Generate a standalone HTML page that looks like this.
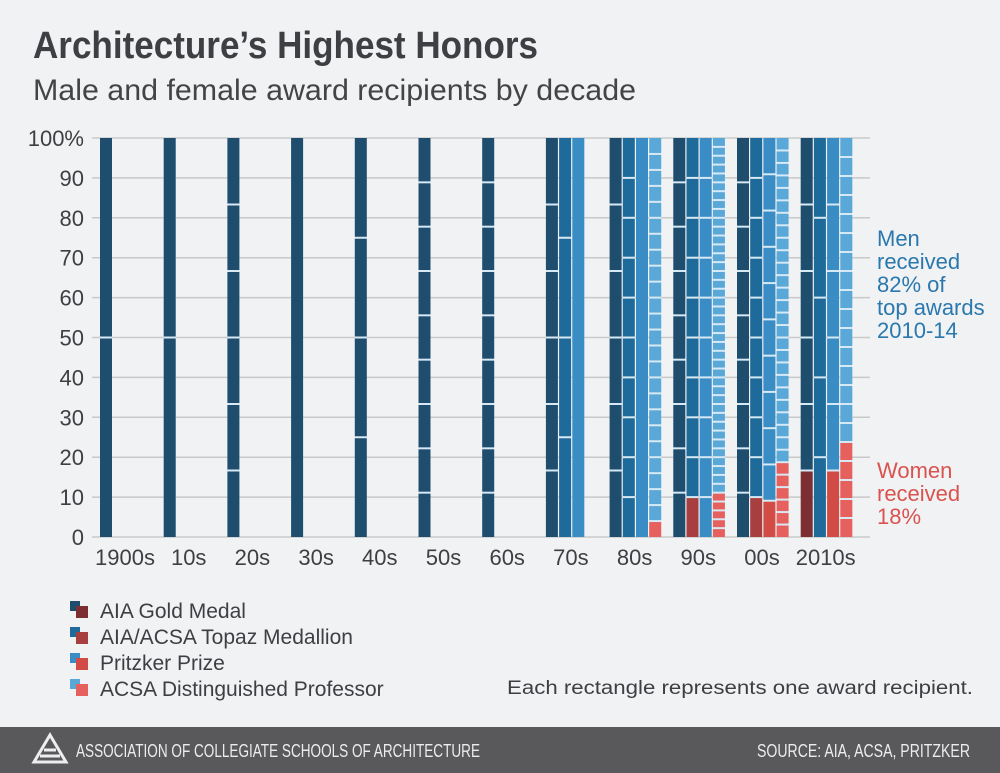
<!DOCTYPE html>
<html><head><meta charset="utf-8"><style>
body{margin:0;background:#f0f2f4;}
svg{display:block;font-family:"Liberation Sans",sans-serif;}
</style></head><body>
<svg id="chart" width="1000" height="773" viewBox="0 0 1000 773">
<rect width="1000" height="773" fill="#f0f2f4"/>
<text x="33" y="58" font-size="38" font-weight="bold" fill="#3e3f42" textLength="505" lengthAdjust="spacingAndGlyphs">Architecture’s Highest Honors</text>
<text x="33" y="100" font-size="30" fill="#444" textLength="603" lengthAdjust="spacingAndGlyphs">Male and female award recipients by decade</text>
<g id="grid"></g><g id="bars"></g><g id="labels"></g>
<g font-size="22" fill="#2a78ad">
<text x="877" y="246">Men</text><text x="877" y="269">received</text><text x="877" y="292">82% of</text><text x="877" y="315">top awards</text><text x="877" y="338">2010-14</text></g>
<g font-size="22" fill="#d9534f">
<text x="877" y="478">Women</text><text x="877" y="501">received</text><text x="877" y="524">18%</text></g>
<g id="legend"></g>
<text x="507" y="694" font-size="19" fill="#3e3f42" textLength="466" lengthAdjust="spacingAndGlyphs">Each rectangle represents one award recipient.</text>
<rect x="0" y="727" width="1000" height="46" fill="#59595b"/>
<g fill="none" stroke="#eee" stroke-width="3">
<path d="M50 735 L66 762 L34 762 Z"/><path d="M44 750 L56 750 M40 756 L60 756"/></g>
<text x="76" y="757" font-size="18" fill="#ececec" textLength="404" lengthAdjust="spacingAndGlyphs">ASSOCIATION OF COLLEGIATE SCHOOLS OF ARCHITECTURE</text>
<text x="757" y="757" font-size="18" fill="#ececec" textLength="213" lengthAdjust="spacingAndGlyphs">SOURCE: AIA, ACSA, PRITZKER</text>
</svg>
<script>
const decades = ["1900s","10s","20s","30s","40s","50s","60s","70s","80s","90s","00s","2010s"];
const awards = ["AIA Gold Medal","AIA/ACSA Topaz Medallion","Pritzker Prize","ACSA Distinguished Professor"];
// men counts per decade: [gold, topaz, pritzker, acsa]
const men = [[2,0,0,0],[2,0,0,0],[6,0,0,0],[1,0,0,0],[4,0,0,0],[9,0,0,0],[9,0,0,0],[6,4,1,0],[6,10,1,24],[9,9,10,40],[9,9,10,26],[5,5,5,16]];
const women = [[0,0,0,0],[0,0,0,0],[0,0,0,0],[0,0,0,0],[0,0,0,0],[0,0,0,0],[0,0,0,0],[0,0,0,0],[0,0,0,1],[0,1,0,5],[0,1,1,6],[1,0,1,5]];
const yTicks = [0,10,20,30,40,50,60,70,80,90,100];
const menColors = ["#1f4d6d","#1e6b9b","#3a8cc4","#5aa8d8"];
const womenColors = ["#7b2f33","#a63f3e","#d24b44","#e6605d"];
const NS = "http://www.w3.org/2000/svg";
const Y0 = 537, YH = 399;
const y = v => Y0 - v / 100 * YH;
const groupX = i => 100 + i * 63.7;
const barX = (i, j) => groupX(i) + j * 13.2;
function mk(tag, attrs, parent) { const e = document.createElementNS(NS, tag); for (const k in attrs) e.setAttribute(k, attrs[k]); parent.appendChild(e); return e; }
const grid = document.getElementById("grid"), bars = document.getElementById("bars"), labels = document.getElementById("labels"), legend = document.getElementById("legend");
yTicks.forEach(t => {
  const l = mk("line", {x1: 92, x2: 870, y1: y(t), y2: y(t), stroke: "#c9c9c9", "stroke-width": 1.5}, grid);
  
  
  const tx = mk("text", {x: 84, y: y(t) + 8, "font-size": 22, fill: "#3e3f42", "text-anchor": "end"}, labels);
  
  
  tx.textContent = t === 100 ? "100%" : String(t);
});
decades.forEach((d, i) => {
  const tx = mk("text", {x: groupX(i) + 25, y: 565, "font-size": 22, fill: "#3e3f42", "text-anchor": "middle"}, labels);
  
  
  tx.textContent = d;
  for (let j = 0; j < 4; j++) {
    const m = men[i][j], w = women[i][j], n = m + w;
    if (!n) continue;
    const bg = mk("rect", {x: barX(i, j), y: y(100), width: 12, height: YH, fill: "#d6e9f5"}, bars);
    
    
    for (let k = 0; k < n; k++) {
      const isW = k < w;
      const top = y((k + 1) / n * 100), bot = y(k / n * 100);
      const r = mk("rect", {x: barX(i, j), y: top + (k === n - 1 ? 0 : 1), width: 12, height: Math.max(0.5, bot - top - (k === n - 1 ? 1 : 2) + (k === 0 ? 1 : 0)), fill: isW ? womenColors[j] : menColors[j]}, bars);
      
      
    }
  }
});
awards.forEach((a, j) => {
  const yy = 601 + j * 26;
  const g = mk("g", {}, legend);
  
  
  mk("rect", {x: 70, y: yy, width: 10, height: 10, fill: menColors[j]}, g);
  mk("rect", {x: 76, y: yy + 5, width: 12, height: 12, fill: womenColors[j]}, g);
  const t = mk("text", {x: 100, y: yy + 17, "font-size": 21, fill: "#3e3f42"}, g);
  t.textContent = a;
});
</script>
</body></html>
